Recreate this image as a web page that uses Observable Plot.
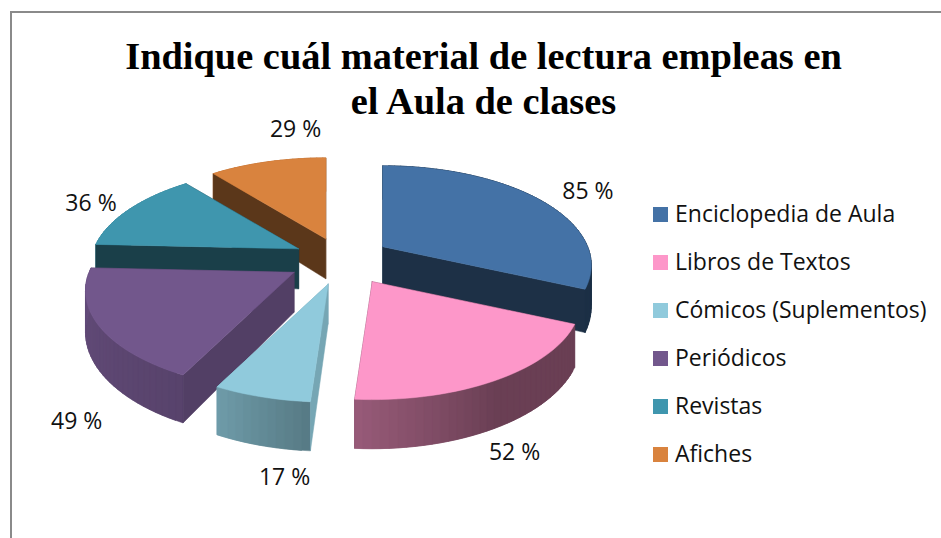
<!DOCTYPE html>
<html lang="es">
<head>
<meta charset="utf-8">
<script src="https://cdn.jsdelivr.net/npm/d3@7"></script>
<script src="https://cdn.jsdelivr.net/npm/@observablehq/plot@0.6"></script>
<style>
html,body{margin:0;padding:0;background:#fff;overflow:hidden}
#frame{position:relative;width:941px;height:538px;overflow:hidden}
#border{position:absolute;left:10px;top:11px;width:940px;height:540px;border:2px solid #8a8a8a;box-sizing:border-box}
#title{position:absolute;left:0;top:34px;width:967px;text-align:center;font:bold 38.4px/45px "Liberation Serif",serif;color:#000}
#chart{position:absolute;left:0;top:0}
#legend{position:absolute;left:653px;top:189px;font:23px/48px "Open Sans",sans-serif;color:#111}
#legend div{display:flex;align-items:center;height:48px;white-space:nowrap}
#legend i{display:block;width:15px;height:15px;margin-right:7px;position:relative;top:1px}
</style>
</head>
<body>
<div id="frame">
  <div id="border"></div>
  <div id="chart"></div>
  <div id="title">Indique cuál material de lectura empleas en<br>el Aula de clases</div>
  <div id="legend"></div>
</div>
<script>
const categories = ["Enciclopedia de Aula","Libros de Textos","Cómicos (Suplementos)","Periódicos","Revistas","Afiches"];
const values = [85,52,17,49,36,29];
const colors = ["#4472a6","#fd97c9","#90cadc","#72578c","#3f96ae","#d9833e"];

// look of the tilted, exploded disc
const W = 941, H = 538;
const cx = 342, cy = 262, R = 205, tilt = 96, persp = 0.186, depth = 40, explode = 0.245;
const cutShade = [.42,.42,.82,.72,.42,.42];
const wallShade = d3.scaleLinear().domain([0,150,184,207,270,360]).range([.42,.42,.6,.77,.88,.88]).clamp(true);
const sliceNudge = [[-2,-3],[4,-1],[-1,-1],[-5,-2],[1,-3],[0,-1.5]];
const labelNudge = [[47,-11],[21,72],[22,80],[-27,94],[-38,-8],[28,-34]];

const total = d3.sum(values);
const rad = d => d * Math.PI / 180;
// (ox, oy): where the slice's point sits after exploding; (X, Y): position on the disc
function project(ox, oy, X, Y, h) {
  const s = 1 / (1 - persp * Y);
  return {x: cx + R * (ox + X * s), y: cy + tilt * (oy + Y * s) + h * depth * s};
}
const shade = (c, k) => { const r = d3.rgb(c); return d3.rgb(r.r*k, r.g*k, r.b*k).formatHex(); };

let acc = 0;
const slices = values.map((v, i) => {
  const a0 = acc / total * 360; acc += v; const a1 = acc / total * 360;
  const m = (a0 + a1) / 2;
  return {i, v, a0, a1, m, ox: explode * Math.sin(rad(m)), oy: -explode * Math.cos(rad(m))};
});
const nudged = (s, p) => ({x: p.x + sliceNudge[s.i][0], y: p.y + sliceNudge[s.i][1]});
const outer = (s, a, h) => nudged(s, project(s.ox, s.oy, Math.sin(rad(a)), -Math.cos(rad(a)), h));
const apex = (s, h) => nudged(s, project(s.ox, s.oy, 0, 0, h));

const polys = [];
function add(pts, color) {
  const id = polys.length ? polys[polys.length-1].id + 1 : 0;
  [...pts, pts[0]].forEach(p => polys.push({id, x: p.x, y: p.y, color}));
}
[...slices].sort((a,b) => Math.cos(rad(b.m)) - Math.cos(rad(a.m))).forEach(s => {
  const c = colors[s.i], cc = shade(c, cutShade[s.i]);
  const step = 2;
  const angles = d3.range(s.a0, s.a1, step).concat(s.a1);
  // a cut face looks at the viewer when its outward normal has a forward component
  const cut = a => add([apex(s,0), outer(s,a,0), outer(s,a,1), apex(s,1)], cc);
  const a0Front = -Math.cos(rad(s.a0 - 90)) > 0;
  const a1Front = -Math.cos(rad(s.a1 + 90)) > 0;
  if (!a0Front) cut(s.a0);
  if (!a1Front) cut(s.a1);
  d3.pairs(angles).forEach(([p,q]) => {
    const e = Math.min(q + step, s.a1); // overlap the next strip so no seams show
    add([outer(s,p,0), outer(s,e,0), outer(s,e,1), outer(s,p,1)], shade(c, wallShade((p+q)/2)));
  });
  if (a0Front) cut(s.a0);
  if (a1Front) cut(s.a1);
  add([apex(s,0), ...angles.map(a => outer(s,a,0))], c);
});

const labels = slices.map(s => {
  const p = outer(s, s.m, 0), n = labelNudge[s.i], k = sliceNudge[s.i];
  return {x: p.x + n[0] - k[0], y: p.y + n[1] - k[1], text: s.v + " %"};
});

const plot = Plot.plot({
  width: W, height: H, margin: 0,
  x: {domain: [0, W], range: [0, W], axis: null},
  y: {domain: [0, H], range: [0, H], axis: null},
  style: {background: "transparent"},
  marks: [
    Plot.line(polys, {x: "x", y: "y", z: "id", fill: "color", stroke: "color", strokeWidth: 0.5, curve: "linear"}),
    Plot.text(labels, {x: "x", y: "y", text: "text", fontSize: 23, fontFamily: "Open Sans", fill: "#111"})
  ]
});
document.getElementById("chart").append(plot);

d3.select("#legend").selectAll("div").data(categories).join("div")
  .html((d,i) => `<i style="background:${colors[i]}"></i><span>${d}</span>`);
</script>
</body>
</html>
